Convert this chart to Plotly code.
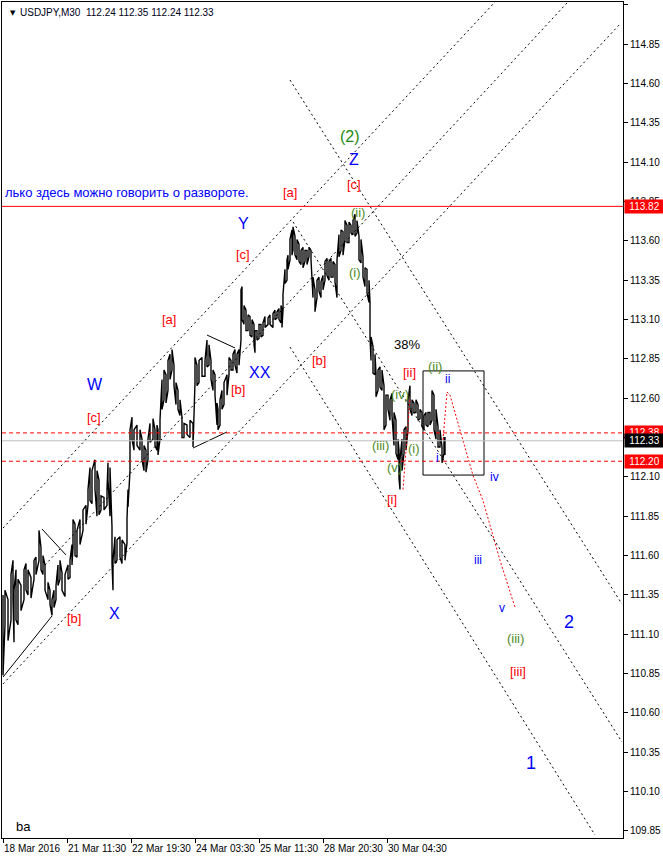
import plotly.graph_objects as go

# ---------------- data ----------------
bar_index = [0, 2, 5, 8, 10, 11, 13, 15, 18, 21, 23, 25, 28, 31, 33, 36, 38, 40, 42, 45, 47, 49, 51, 53, 55, 57, 59, 62, 65, 67,
             69, 70, 72, 74, 77, 80, 83, 85, 87, 89, 92, 94, 96, 98, 101, 104, 105, 107, 109, 110, 112, 114, 117, 119, 122, 124,
             125, 127, 129, 131, 134, 137, 139, 141, 143, 145, 147, 150, 152, 154, 155, 157, 159, 161, 163, 165, 167, 169, 171,
             173, 175, 177, 179, 181, 184, 187, 190, 192, 194, 196, 199, 202, 204, 206, 208, 210, 212, 214, 215, 217, 219, 221,
             224, 226, 228, 230, 232, 234, 236, 238, 239, 241, 243, 245, 247, 249, 251, 252, 254, 256, 258, 260, 262, 265, 267,
             270, 272, 274, 276, 278, 279, 280, 282, 284, 285, 287, 289, 290, 292, 294, 296, 298, 300, 302, 304, 306, 308, 310,
             312, 314, 316, 318, 320, 322, 324, 326, 328, 330, 332, 334, 336, 338, 340, 342, 344, 346, 348, 350, 352, 354, 356,
             358, 360, 362, 364, 366, 367, 368, 370, 372, 373, 375, 377, 379, 381, 383, 385, 387, 389, 391, 393, 395, 396, 397,
             399, 401, 403, 405, 407, 409, 411, 413, 415, 417, 419, 421, 423, 425, 427, 429, 431, 433, 435, 437, 439, 441, 442]
bar_high = [111.35, 111.38, 111.32, 111.48, 111.57, 111.38, 111.51, 111.45, 111.41, 111.51, 111.55, 111.51, 111.46, 111.57,
            111.59, 111.76, 111.65, 111.60, 111.54, 111.43, 111.38, 111.32, 111.38, 111.41, 111.54, 111.57, 111.49, 111.48,
            111.54, 111.57, 111.67, 111.83, 111.80, 111.76, 111.83, 111.89, 111.92, 112.02, 112.16, 112.14, 112.21, 112.14,
            112.08, 111.98, 111.97, 112.02, 112.19, 112.16, 111.78, 111.57, 111.72, 111.70, 111.72, 111.70, 111.67, 111.83,
            112.02, 112.40, 112.48, 112.40, 112.43, 112.40, 112.34, 112.30, 112.27, 112.34, 112.44, 112.47, 112.40, 112.43,
            112.40, 112.46, 112.72, 112.78, 112.75, 112.84, 112.88, 112.91, 112.81, 112.70, 112.65, 112.59, 112.48, 112.44,
            112.43, 112.46, 112.44, 112.86, 112.81, 112.84, 112.86, 112.84, 112.97, 112.94, 112.84, 112.78, 112.75, 112.57,
            112.53, 112.59, 112.65, 112.70, 112.75, 112.86, 112.84, 112.88, 112.91, 112.88, 112.91, 113.29, 113.31, 113.19,
            113.16, 113.13, 113.12, 113.10, 113.07, 113.03, 113.03, 113.07, 113.07, 113.08, 113.12, 113.11, 113.13, 113.14,
            113.16, 113.15, 113.17, 113.19, 113.16, 113.26, 113.42, 113.48, 113.51, 113.61, 113.67, 113.69, 113.63, 113.61,
            113.58, 113.54, 113.56, 113.54, 113.54, 113.56, 113.54, 113.37, 113.29, 113.35, 113.37, 113.34, 113.38, 113.47,
            113.49, 113.47, 113.49, 113.47, 113.45, 113.48, 113.64, 113.67, 113.66, 113.73, 113.70, 113.72, 113.70, 113.73,
            113.77, 113.73, 113.63, 113.61, 113.50, 113.43, 113.42, 113.35, 113.21, 112.99, 112.93, 112.88, 112.76, 112.78,
            112.80, 112.78, 112.68, 112.62, 112.62, 112.59, 112.63, 112.51, 112.46, 112.34, 112.27, 112.21, 112.34, 112.40,
            112.42, 112.59, 112.68, 112.59, 112.57, 112.59, 112.56, 112.53, 112.51, 112.49, 112.51, 112.51, 112.51, 112.65,
            112.62, 112.53, 112.42, 112.40, 112.29, 112.35, 112.35]
bar_low = [110.84, 111.16, 111.06, 111.19, 111.32, 111.05, 111.19, 111.16, 111.25, 111.32, 111.38, 111.35, 111.33, 111.45,
           111.48, 111.57, 111.51, 111.48, 111.38, 111.32, 111.29, 111.22, 111.27, 111.32, 111.41, 111.45, 111.38, 111.34,
           111.45, 111.46, 111.54, 111.65, 111.60, 111.59, 111.67, 111.76, 111.80, 111.92, 111.95, 111.93, 112.02, 111.85,
           111.86, 111.89, 111.89, 111.92, 112.08, 111.85, 111.55, 111.38, 111.55, 111.57, 111.59, 111.55, 111.57, 111.68,
           111.91, 112.14, 112.34, 112.27, 112.30, 112.27, 112.21, 112.14, 112.13, 112.21, 112.32, 112.34, 112.30, 112.27,
           112.24, 112.34, 112.53, 112.59, 112.57, 112.65, 112.72, 112.78, 112.68, 112.56, 112.53, 112.49, 112.35, 112.35,
           112.37, 112.35, 112.29, 112.70, 112.68, 112.70, 112.74, 112.74, 112.80, 112.81, 112.72, 112.65, 112.62, 112.43,
           112.40, 112.43, 112.53, 112.56, 112.62, 112.75, 112.78, 112.78, 112.81, 112.76, 112.81, 112.97, 113.10, 113.07,
           113.03, 113.03, 113.00, 112.99, 112.94, 112.89, 112.97, 112.98, 112.99, 113.00, 113.05, 113.07, 113.07, 113.05,
           113.10, 113.11, 113.10, 113.08, 113.05, 113.16, 113.33, 113.35, 113.42, 113.48, 113.51, 113.54, 113.51, 113.48,
           113.47, 113.45, 113.43, 113.47, 113.45, 113.50, 113.48, 113.24, 113.15, 113.24, 113.28, 113.24, 113.29, 113.35,
           113.38, 113.35, 113.37, 113.37, 113.34, 113.24, 113.50, 113.54, 113.51, 113.61, 113.59, 113.59, 113.65, 113.64,
           113.63, 113.65, 113.48, 113.46, 113.37, 113.31, 113.27, 113.21, 112.99, 112.84, 112.76, 112.75, 112.61, 112.65,
           112.67, 112.65, 112.40, 112.43, 112.53, 112.46, 112.49, 112.30, 112.25, 112.21, 112.09, 112.02, 112.14, 112.25,
           112.27, 112.40, 112.53, 112.49, 112.51, 112.51, 112.46, 112.47, 112.42, 112.40, 112.43, 112.42, 112.43, 112.46,
           112.40, 112.34, 112.29, 112.29, 112.19, 112.25, 112.24]

# dashed channel lines (start bar, start price, end bar, end price)
trend_x0 = [0, 42, 0, 287, 290, 287]
trend_p0 = [111.775, 111.540, 110.784, 114.623, 113.721, 112.926]
trend_x1 = [492, 564, 617, 619, 619, 592]
trend_p1 = [115.119, 115.113, 114.979, 111.292, 110.415, 109.824]

# solid thin wave lines
wave_x0 = [39, 0, 204, 190]
wave_p0 = [111.769, 110.828, 113.002, 112.284]
wave_x1 = [63, 49, 232, 224]
wave_p1 = [111.604, 111.216, 112.920, 112.386]

# red dotted forecast paths
forecast_x = [440, 444, 447, 457, 470, 480, 497, 512]
forecast_p = [112.335, 112.64, 112.62, 112.40, 112.11, 111.95, 111.57, 111.27]
seg_x = [400, 407]
seg_p = [112.02, 112.60]

# rectangle
box_x = [420, 481]
box_p = [112.112, 112.774]

level_solid = 113.82
level_dash = [112.38, 112.20]
bid_price = 112.33

time_tick_bars = [0, 64, 128, 192, 256, 320, 384]
time_tick_labels = ["18 Mar 2016", "21 Mar 11:30", "22 Mar 19:30", "24 Mar 03:30",
                    "25 Mar 11:30", "28 Mar 20:30", "30 Mar 04:30"]
price_tick_values = [109.85, 110.10, 110.35, 110.60, 110.85, 111.10, 111.35, 111.60,
                     111.85, 112.10, 112.35, 112.60, 112.85, 113.10, 113.35, 113.60,
                     113.85, 114.10, 114.35, 114.60, 114.85, 115.10]
# 112.35 is fully covered by the price boxes in the reference
price_tick_labels = ["109.85", "110.10", "110.35", "110.60", "110.85", "111.10", "111.35", "111.60",
                     "111.85", "112.10", "", "112.60", "112.85", "113.10", "113.35", "113.60",
                     "113.85", "114.10", "114.35", "114.60", "114.85", "115.10"]

BLUE = "#0000ff"
RED = "#ff0000"
GREEN = "#1c8a10"
OLIVE = "#4e8a1e"
BLACK = "#000000"

wave_labels = [
    ("W", 92, 112.685, BLUE, 16), ("[c]", 91, 112.475, RED, 13), ("[b]", 71, 111.203, RED, 13),
    ("X", 111, 111.235, BLUE, 16), ("[a]", 166, 113.104, RED, 13), ("[b]", 235, 112.659, RED, 13),
    ("XX", 257, 112.761, BLUE, 16), ("[c]", 240, 113.517, RED, 13), ("Y", 240, 113.714, BLUE, 16),
    ("[a]", 287, 113.911, RED, 13), ("[b]", 316, 112.843, RED, 13), ("(2)", 347, 114.261, GREEN, 16),
    ("Z", 351, 114.115, BLUE, 16), ("[c]", 351, 113.962, RED, 13), ("(ii)", 355, 113.784, OLIVE, 13),
    ("(i)", 352, 113.397, OLIVE, 13), ("38%", 404, 112.945, BLACK, 13), ("[ii]", 406, 112.767, RED, 13),
    ("(ii)", 432, 112.799, OLIVE, 13), ("ii", 444, 112.723, BLUE, 12), ("(iv)", 397, 112.621, OLIVE, 13),
    ("(iii)", 377, 112.303, OLIVE, 13), ("(i)", 411, 112.284, OLIVE, 13), ("(v)", 391, 112.157, OLIVE, 13),
    ("i", 434, 112.220, BLUE, 12), ("[i]", 389, 111.954, RED, 13), ("iv", 491, 112.100, BLUE, 12),
    ("iii", 475, 111.572, BLUE, 12), ("v", 499, 111.267, BLUE, 12), ("(iii)", 512, 111.076, OLIVE, 13),
    ("2", 566, 111.178, BLUE, 18), ("[iii]", 515, 110.865, RED, 13), ("1", 528, 110.282, BLUE, 18),
    ("ba", 20, 109.881, BLACK, 13),
]

FONT = "Liberation Sans, Arial, sans-serif"

# ---------------- figure ----------------
fig = go.Figure()

# price bars as a dense high/low zig-zag
px_, py_ = [], []
for k, (b, h, l) in enumerate(zip(bar_index, bar_high, bar_low)):
    if k % 2 == 0:
        px_ += [b, b]
        py_ += [h, l]
    else:
        px_ += [b, b]
        py_ += [l, h]
fig.add_trace(go.Scatter(x=px_, y=py_, mode="lines", line=dict(color="black", width=1.4),
                         hoverinfo="skip", showlegend=False))

fig.add_trace(go.Scatter(x=forecast_x, y=forecast_p, mode="lines",
                         line=dict(color=RED, width=1, dash="2px,2px"), showlegend=False, hoverinfo="skip"))
fig.add_trace(go.Scatter(x=seg_x, y=seg_p, mode="lines",
                         line=dict(color=RED, width=1, dash="2px,2px"), showlegend=False, hoverinfo="skip"))

shapes = []
for x0, p0, x1, p1 in zip(trend_x0, trend_p0, trend_x1, trend_p1):
    shapes.append(dict(type="line", xref="x", yref="y", x0=x0, y0=p0, x1=x1, y1=p1,
                       line=dict(color="black", width=1, dash="2px,3px")))
for x0, p0, x1, p1 in zip(wave_x0, wave_p0, wave_x1, wave_p1):
    shapes.append(dict(type="line", xref="x", yref="y", x0=x0, y0=p0, x1=x1, y1=p1,
                       line=dict(color="black", width=1)))
shapes.append(dict(type="rect", xref="x", yref="y", x0=box_x[0], x1=box_x[1], y0=box_p[0], y1=box_p[1],
                   line=dict(color="black", width=1)))
shapes.append(dict(type="line", xref="paper", yref="y", x0=0, x1=1, y0=bid_price, y1=bid_price,
                   line=dict(color="#c0c0c0", width=1)))
shapes.append(dict(type="line", xref="paper", yref="y", x0=0, x1=1, y0=level_solid, y1=level_solid,
                   line=dict(color=RED, width=1)))
for lv in level_dash:
    shapes.append(dict(type="line", xref="paper", yref="y", x0=0, x1=1, y0=lv, y1=lv,
                       line=dict(color=RED, width=1, dash="4px,3px")))

ann = []
for t, b, p, c, s in wave_labels:
    ann.append(dict(text=t, x=b, y=p, xref="x", yref="y", showarrow=False,
                    font=dict(family=FONT, size=s, color=c)))
ann.append(dict(text="лько здесь можно говорить о развороте.", x=0, y=113.911, xref="x", yref="y",
                xanchor="left", showarrow=False, font=dict(family=FONT, size=13, color=BLUE)))
ann.append(dict(text="\u25BC", x=0, y=1, xref="paper", yref="paper", xanchor="left", yanchor="top",
                xshift=6, yshift=-5, showarrow=False, font=dict(family="DejaVu Sans", size=7, color="black")))
ann.append(dict(text="USDJPY,M30  112.24 112.35 112.24 112.33", x=0, y=1, xref="paper", yref="paper",
                xanchor="left", yanchor="top", xshift=16, yshift=-3, showarrow=False,
                font=dict(family=FONT, size=10, color="#000020")))
for b, lab in zip(time_tick_bars, time_tick_labels):
    ann.append(dict(text=lab, x=b, y=0, xref="x", yref="paper", xanchor="left", yanchor="top",
                    xshift=-1, yshift=-3, showarrow=False, font=dict(family=FONT, size=10, color="black")))
for lv, bg in [(level_solid, RED), (level_dash[0], RED), (bid_price, "black"), (level_dash[1], RED)]:
    ann.append(dict(text=f"{lv:.2f}", x=1, y=lv, xref="paper", yref="y", xanchor="left", yanchor="middle",
                    xshift=1, showarrow=False, bgcolor=bg, width=37, height=11, align="center", borderpad=1,
                    font=dict(family=FONT, size=10, color="white")))

fig.update_layout(
    width=663, height=859,
    margin=dict(l=2, r=40, t=2, b=21, autoexpand=False),
    paper_bgcolor="white", plot_bgcolor="white",
    shapes=shapes, annotations=ann, showlegend=False,
    xaxis=dict(range=[-1, 620], showgrid=False, zeroline=False, showline=True, mirror=True,
               linecolor="black", linewidth=1, ticks="outside", ticklen=4, tickcolor="black",
               tickvals=time_tick_bars, showticklabels=False, fixedrange=True),
    yaxis=dict(range=[109.805, 115.119], side="right", showgrid=False, zeroline=False, showline=True,
               mirror=True, linecolor="black", linewidth=1, ticks="outside", ticklen=4, tickcolor="black",
               tickvals=price_tick_values, ticktext=price_tick_labels,
               tickfont=dict(family=FONT, size=10, color="black"), fixedrange=True),
)

fig.write_html("out.html", config={"displayModeBar": False},
               post_script="document.body.style.margin='0';document.body.style.padding='0';"
                           "document.body.style.overflow='hidden';")
